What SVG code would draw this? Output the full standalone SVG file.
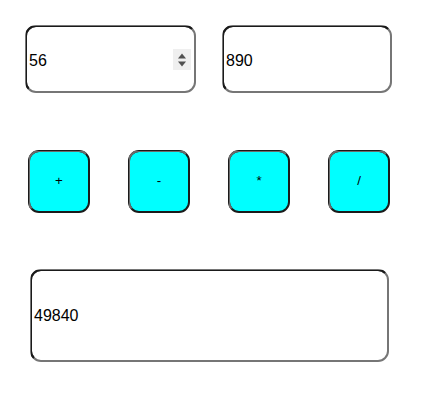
<svg xmlns="http://www.w3.org/2000/svg" width="425" height="410" viewBox="0 0 425 410">
<defs>
<style>
.field-dark{fill:none;stroke:#1a1a1a;stroke-width:2}
.field-light{stroke:#767676;stroke-width:2}
.btn{fill:#00ffff;stroke:#1a1a1a;stroke-width:2}
.btn-light{fill:none;stroke:#6b6b6b;stroke-width:2}
.val{font-family:"Liberation Sans",Arial,sans-serif;font-size:16px;fill:#000}
.lbl{font-family:"Liberation Sans",Arial,sans-serif;font-size:13.33px;fill:#000;text-anchor:middle}
</style>
<clipPath id="clipA"><polygon points="26,26 195,26 165,56 56,56 26,92"/></clipPath>
<clipPath id="clipB"><polygon points="223,26 391,26 361,56 253,56 223,92"/></clipPath>
<clipPath id="clipR"><polygon points="31,270 388,270 343,315 76,315 31,361"/></clipPath>
<clipPath id="cb1"><polygon points="29,151 89,151 29,211"/></clipPath>
<clipPath id="cb2"><polygon points="129,151 189,151 129,211"/></clipPath>
<clipPath id="cb3"><polygon points="229,151 289,151 229,211"/></clipPath>
<clipPath id="cb4"><polygon points="329,151 389,151 329,211"/></clipPath>
</defs>
<rect width="425" height="410" fill="#fff"/>
<g id="input-a">
<rect x="26" y="26" width="169" height="66" rx="10" fill="#fff" class="field-light"/>
<rect x="26" y="26" width="169" height="66" rx="10" class="field-dark" clip-path="url(#clipA)"/>
<rect x="173" y="49" width="18" height="21" fill="#efefef"/>
<polygon points="178,58.5 186,58.5 182,53.5" fill="#505050"/>
<polygon points="178,61.5 186,61.5 182,66.5" fill="#505050"/>
<text x="29" y="66" class="val">56</text>
</g>
<g id="input-b">
<rect x="223" y="26" width="168" height="66" rx="10" fill="#fff" class="field-light"/>
<rect x="223" y="26" width="168" height="66" rx="10" class="field-dark" clip-path="url(#clipB)"/>
<text x="226" y="66" class="val">890</text>
</g>
<g id="btn-add">
<rect x="29" y="151" width="60" height="61" rx="10" class="btn"/>
<rect x="29" y="151" width="60" height="61" rx="10" class="btn-light" clip-path="url(#cb1)"/>
<text x="59" y="185" class="lbl">+</text>
</g>
<g id="btn-sub">
<rect x="129" y="151" width="60" height="61" rx="10" class="btn"/>
<rect x="129" y="151" width="60" height="61" rx="10" class="btn-light" clip-path="url(#cb2)"/>
<text x="159" y="185" class="lbl">-</text>
</g>
<g id="btn-mul">
<rect x="229" y="151" width="60" height="61" rx="10" class="btn"/>
<rect x="229" y="151" width="60" height="61" rx="10" class="btn-light" clip-path="url(#cb3)"/>
<text x="259" y="185" class="lbl">*</text>
</g>
<g id="btn-div">
<rect x="329" y="151" width="60" height="61" rx="10" class="btn"/>
<rect x="329" y="151" width="60" height="61" rx="10" class="btn-light" clip-path="url(#cb4)"/>
<text x="359" y="185" class="lbl">/</text>
</g>
<g id="result">
<rect x="31" y="270" width="357" height="91" rx="10" fill="#fff" class="field-light"/>
<rect x="31" y="270" width="357" height="91" rx="10" class="field-dark" clip-path="url(#clipR)"/>
<text x="34" y="321" class="val">49840</text>
</g>
<g id="connectors"/>
</svg>
